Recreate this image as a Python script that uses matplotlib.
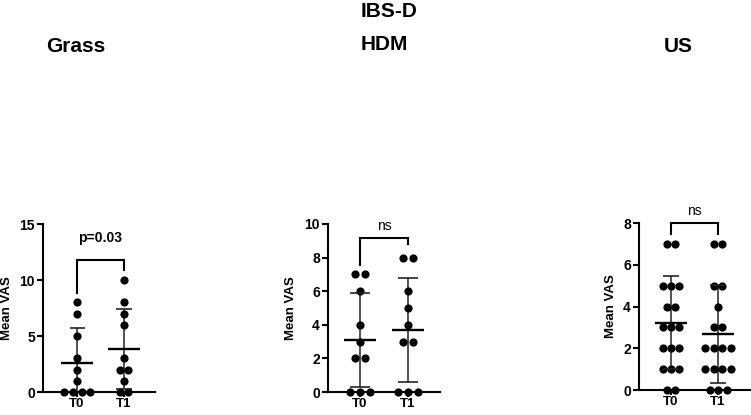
import numpy as np
import matplotlib
matplotlib.use("Agg")
from matplotlib import pyplot as plt

plt.rcParams['font.family'] = ['Liberation Sans', 'DejaVu Sans']
plt.rcParams['font.weight'] = 'bold'

# data
categories = ['T0', 'T1']
panel_titles = ['Grass', 'HDM', 'US']
main_title = 'IBS-D'

grass_t0 = [0, 0, 0, 0, 1, 2, 3, 5, 7, 8]
grass_t1 = [0, 0, 1, 2, 2, 3, 6, 7, 8, 10]
grass_mean = [2.6, 3.85]
grass_sd = [3.07, 3.6]

hdm_t0 = [0, 0, 0, 2, 2, 3, 4, 6, 7, 7]
hdm_t1 = [0, 0, 0, 3, 3, 4, 5, 6, 8, 8]
hdm_mean = [3.08, 3.7]
hdm_sd = [2.8, 3.1]

us_t0 = [0, 0, 1, 1, 1, 2, 2, 2, 3, 3, 3, 4, 4, 5, 5, 5, 7, 7]
us_t1 = [0, 0, 0, 1, 1, 1, 1, 2, 2, 2, 2, 3, 3, 4, 5, 5, 7, 7]
us_mean = [3.22, 2.69]
us_sd = [2.23, 2.36]

grass_ticks = [0, 5, 10, 15]
hdm_ticks = [0, 2, 4, 6, 8, 10]
us_ticks = [0, 2, 4, 6, 8]

sig_labels = ['p=0.03', 'ns', 'ns']


def swarm_x(values, center, step):
    values = np.asarray(values)
    xs = np.zeros(len(values))
    for v in np.unique(values):
        idx = np.where(values == v)[0]
        n = len(idx)
        xs[idx] = center + (np.arange(n) - (n - 1) / 2) * step
    return xs


W, H = 751, 415
fig = plt.figure(figsize=(W / 100, H / 100), dpi=100)

# layout per panel: axes box in px, xlim, dot step, cap half width,
# bracket height / leg ends, label height
panels = [
    dict(t0=grass_t0, t1=grass_t1, mean=grass_mean, sd=grass_sd, ticks=grass_ticks,
         left=43, bottom=392, top=224, xlim=(-0.725, 1.66), step=0.19, cap=0.16,
         by=11.8, l0=8.8, l1=10.9, ty=13.4, bold=True, ylab=-0.27),
    dict(t0=hdm_t0, t1=hdm_t1, mean=hdm_mean, sd=hdm_sd, ticks=hdm_ticks,
         left=328, bottom=392, top=224, xlim=(-0.667, 1.667), step=0.21, cap=0.21,
         by=9.17, l0=7.58, l1=8.8, ty=9.66, bold=False, ylab=-0.277),
    dict(t0=us_t0, t1=us_t1, mean=us_mean, sd=us_sd, ticks=us_ticks,
         left=639, bottom=390, top=223, xlim=(-0.68, 1.70), step=0.18, cap=0.17,
         by=8.0, l0=7.46, l1=7.46, ty=8.38, bold=False, ylab=-0.196),
]

for i, p in enumerate(panels):
    ax = fig.add_axes([p['left'] / W, 1 - p['bottom'] / H, 112 / W,
                       (p['bottom'] - p['top']) / H])
    for j, vals in enumerate([p['t0'], p['t1']]):
        xs = swarm_x(vals, j, p['step'])
        ax.plot(xs, vals, 'o', color='black', ms=4.9, clip_on=False, zorder=3)
        m, s = p['mean'][j], p['sd'][j]
        ax.hlines(m, j - 0.34, j + 0.34, color='black', lw=1.7, zorder=4)
        ax.vlines(j, m - s, m + s, color='#333333', lw=1.2, zorder=2)
        ax.hlines([m - s, m + s], j - p['cap'], j + p['cap'], color='#222222',
                  lw=1.2, zorder=4)

    # significance bracket
    ax.plot([0, 0, 1, 1], [p['l0'], p['by'], p['by'], p['l1']], color='black',
            lw=1.5, clip_on=False, solid_joinstyle='miter')
    ax.text(0.5, p['ty'], sig_labels[i], ha='center', va='baseline', fontsize=10,
            fontweight='bold' if p['bold'] else 'normal')

    ax.set_xlim(*p['xlim'])
    ax.set_ylim(0, p['ticks'][-1])
    ax.set_xticks([0, 1])
    ax.set_xticklabels(categories)
    ax.set_yticks(p['ticks'])
    ax.set_ylabel('Mean VAS', fontsize=9.5, fontweight='bold')
    ax.yaxis.set_label_coords(p['ylab'], 0.5)
    for side in ['top', 'right']:
        ax.spines[side].set_visible(False)
    for side in ['left', 'bottom']:
        ax.spines[side].set_linewidth(1.5)
    ax.tick_params(axis='y', length=4.3, width=1.5, pad=1.5, labelsize=10)
    ax.tick_params(axis='x', length=3.6, width=1.5, pad=1.0, labelsize=9.5)

fig.text(361 / W, 1 - 17 / H, main_title, fontsize=15, ha='left', va='baseline')
fig.text(46 / W, 1 - 52 / H, panel_titles[0], fontsize=15, ha='left', va='baseline')
fig.text(361 / W, 1 - 50 / H, panel_titles[1], fontsize=15, ha='left', va='baseline')
fig.text(664 / W, 1 - 52 / H, panel_titles[2], fontsize=15, ha='left', va='baseline')

fig.savefig('out.png', dpi=100)
